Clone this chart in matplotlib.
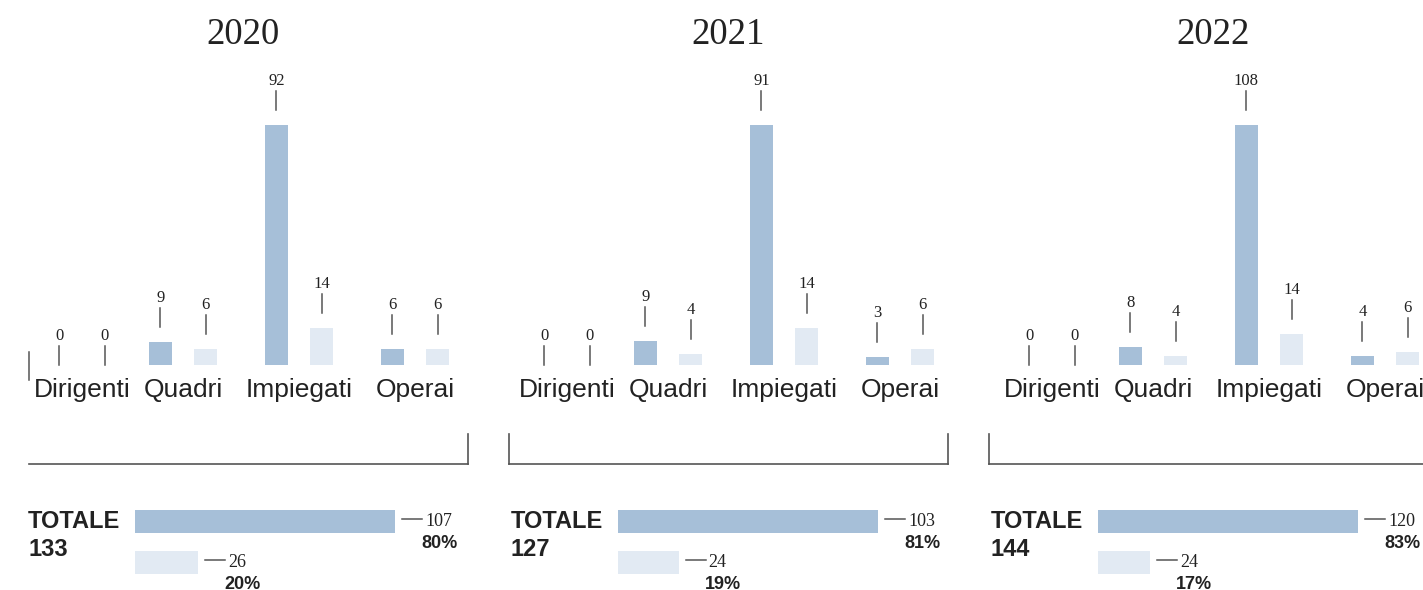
import numpy as np
import matplotlib.pyplot as plt
from matplotlib.transforms import offset_copy

years = ['2020', '2021', '2022']
categories = ['Dirigenti', 'Quadri', 'Impiegati', 'Operai']
# dark series / light series per year
dark = [[0, 9, 92, 6], [0, 9, 91, 3], [0, 8, 108, 4]]
light = [[0, 6, 14, 6], [0, 4, 14, 6], [0, 4, 14, 6]]

DARK = '#a6bfd8'
LIGHT = '#e2eaf3'
TXT = '#222222'
LINE = '#555555'
SERIF = 'Liberation Serif'
SANS = 'Liberation Sans'

W, H = 1423, 590
fig = plt.figure(figsize=(W / 100, H / 100), dpi=100)


def box(x0, y0, x1, y1):
    # pixel box (top-left origin) -> figure fraction rect
    return [x0 / W, 1 - y1 / H, (x1 - x0) / W, (y1 - y0) / H]


def fx(x):
    return x / W


def fy(y):
    return 1 - y / H


chart_off = [0, 485, 970]
frame_off = [0, 480, 960]
total_off = [0, 483, 963]
group_x = [0.13, 1, 2, 3]
pair = 0.195
unit_x = 116
base = 365
top = 55
tallest = 240  # pixel height of the tallest bar in each panel

for i, yr in enumerate(years):
    off = chart_off[i]
    peak = max(dark[i] + light[i])
    px_unit = tallest / peak
    ax = fig.add_axes(box(off, top, off + 480, base))
    ax.set_xlim(1 - 183 / unit_x, 1 + (480 - 183) / unit_x)
    ax.set_ylim(0, (base - top) / px_unit)
    ax.axis('off')

    xs = np.array(group_x)
    ax.bar(xs - pair, dark[i], width=0.2, color=DARK)
    ax.bar(xs + pair, light[i], width=0.2, color=LIGHT)

    for xp, vals in [(xs - pair, dark[i]), (xs + pair, light[i])]:
        for x, v in zip(xp, vals):
            gap = 15 if v > 0 else 0
            y0 = v + gap / px_unit
            y1 = y0 + 19 / px_unit
            ax.plot([x, x], [y0, y1], color=LINE, lw=1.1, clip_on=False)
            ax.text(x, y1 + 10 / px_unit, str(v), ha='center', va='center',
                    family=SERIF, fontsize=12, color=TXT, clip_on=False)

    for x, c in zip(xs, categories):
        ax.text(x, -25 / px_unit, c, ha='center', va='center', family=SANS,
                fontsize=19, color=TXT, clip_on=False)

    # year title
    fig.text(fx(off + 243), fy(35), yr, ha='center', va='center',
             family=SERIF, fontsize=26.5, color=TXT)

    # bracket
    fo = frame_off[i]
    r = min(fo + 468, W + 5)
    fig.add_artist(plt.Line2D([fx(fo + 29), fx(r)], [fy(464), fy(464)],
                              color=LINE, lw=1.2))
    if i > 0:
        fig.add_artist(plt.Line2D([fx(fo + 29), fx(fo + 29)], [fy(434), fy(464)],
                                  color=LINE, lw=1.2))
    if fo + 468 < W:
        fig.add_artist(plt.Line2D([fx(fo + 468), fx(fo + 468)], [fy(434), fy(464)],
                                  color=LINE, lw=1.2))

    # totals
    to = total_off[i]
    d_tot = sum(dark[i])
    l_tot = sum(light[i])
    tot = d_tot + l_tot
    fig.text(fx(to + 28), fy(522), 'TOTALE', ha='left', va='center',
             family=SANS, fontweight='bold', fontsize=17, color=TXT)
    fig.text(fx(to + 28), fy(550), str(tot), ha='left', va='center',
             family=SANS, fontweight='bold', fontsize=17, color=TXT)

    bx = fig.add_axes(box(to + 135, 505, to + 135 + 260, 580))
    bx.set_xlim(0, max(d_tot, l_tot))
    bx.set_ylim(1.43, -0.40)
    bx.axis('off')
    vals = [d_tot, l_tot]
    bx.barh([0, 1], vals, height=0.56, color=[DARK, LIGHT])
    for k, v in enumerate(vals):
        t0 = offset_copy(bx.transData, fig=fig, x=7, y=2, units='dots')
        t1 = offset_copy(bx.transData, fig=fig, x=27, y=2, units='dots')
        p0 = t0.transform((v, k))
        p1 = t1.transform((v, k))
        fig.add_artist(plt.Line2D([p0[0] / W, p1[0] / W], [p0[1] / H, p1[1] / H],
                                  color=LINE, lw=1.1))
        tn = offset_copy(bx.transData, fig=fig, x=30, y=0, units='dots')
        bx.text(v, k, str(v), transform=tn, ha='left', va='center',
                family=SERIF, fontsize=13, color=TXT, clip_on=False)
        tp = offset_copy(bx.transData, fig=fig, x=26, y=-22, units='dots')
        bx.text(v, k, '%d%%' % round(100 * v / tot), transform=tp, ha='left',
                va='center', family=SANS, fontweight='bold', fontsize=13,
                color=TXT, clip_on=False)

# stray tick at the left of the first panel
fig.add_artist(plt.Line2D([fx(29), fx(29)], [fy(352), fy(380)], color=LINE, lw=1.1))

fig.savefig('out.png', dpi=100)
